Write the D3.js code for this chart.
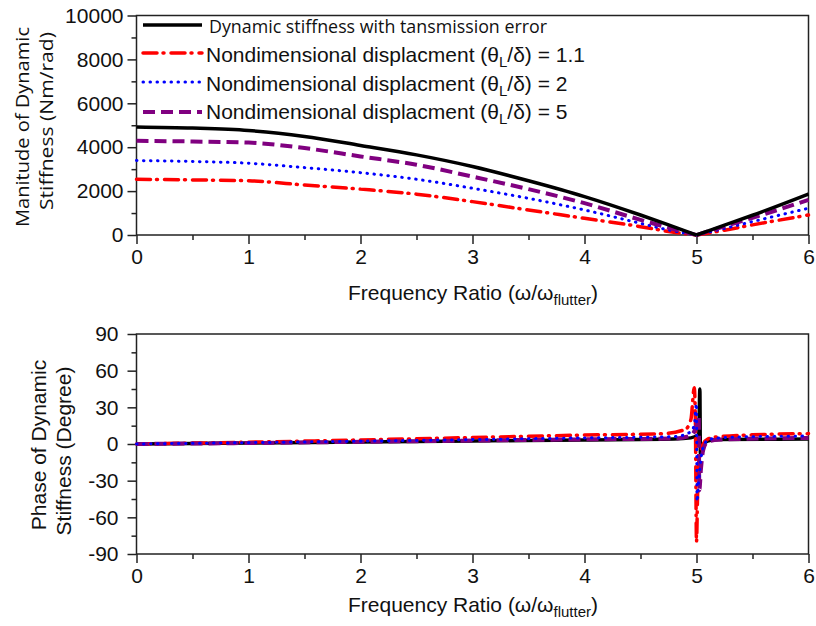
<!DOCTYPE html>
<html>
<head>
<meta charset="utf-8">
<script src="https://cdn.jsdelivr.net/npm/d3@7"></script>
<style>
body { margin: 0; background: #fff; }
text { font-family: 'Liberation Sans', Arial, sans-serif; fill: #111; }
.myriad { font-family: 'Open Sans', 'Noto Sans', sans-serif; }
</style>
</head>
<body>
<svg id="chart" width="816" height="626"></svg>
<script>
// magnitude plot, values (Nm/rad)
var freq_mag = [0, 0.5, 1, 1.5, 2, 2.5, 3, 3.5, 4, 4.5, 4.75, 5, 5.25, 5.5, 6];
var mag_te = [4920, 4870, 4760, 4490, 4080, 3650, 3120, 2470, 1750, 910, 460, 0, 450, 900, 1870];
var mag_d11 = [2540, 2510, 2470, 2280, 2090, 1860, 1520, 1140, 760, 380, 160, 0, 220, 460, 910];
var mag_d2 = [3390, 3350, 3270, 3070, 2840, 2540, 2130, 1670, 1140, 530, 230, 0, 300, 610, 1220];
var mag_d5 = [4290, 4260, 4210, 3960, 3580, 3200, 2660, 2090, 1450, 690, 330, 0, 400, 780, 1600];

// phase plot (degree)
var freq_ph_te = [0, 1, 2, 3, 4, 4.8, 4.95, 5.02, 5.03, 5.035, 5.06, 5.1, 5.2, 6];
var ph_te = [0, 0.8, 1.6, 2.5, 3.3, 4, 5, 8, 45, -9, -1, 2.5, 3.6, 4];
var freq_ph_d11 = [0, 1, 2, 3, 4, 4.7, 4.9, 4.95, 4.98, 4.99, 5.0, 5.01, 5.03, 5.06, 5.1, 5.2, 5.5, 6];
var ph_d11 = [0, 1.5, 3.3, 5.3, 7.3, 8.5, 12, 20, 46, 20, -80, -40, -10, 0, 4, 6, 7.5, 8.5];
var freq_ph_d2 = [0, 1, 2, 3, 4, 4.8, 4.93, 4.98, 5.0, 5.005, 5.02, 5.04, 5.07, 5.12, 5.3, 6];
var ph_d2 = [0, 1.1, 2.3, 3.6, 5, 6, 9, 15, 33, -47, -30, -12, 0, 4, 5.5, 6.5];
var freq_ph_d5 = [0, 1, 2, 3, 4, 4.8, 4.95, 5.0, 5.02, 5.025, 5.04, 5.06, 5.1, 5.2, 6];
var ph_d5 = [0, 0.8, 1.8, 2.8, 3.8, 4.5, 7, 15, 22, -38, -20, -5, 2, 3.5, 5];

var freq_ticks = [0, 1, 2, 3, 4, 5, 6];
var mag_ticks = [0, 2000, 4000, 6000, 8000, 10000];
var phase_ticks = [-90, -60, -30, 0, 30, 60, 90];
var legend_ratios = ['1.1', '2', '5'];

var styles = {
    te: {stroke: '#000000', width: 3.5, dash: null, cap: 'butt'},
    d11: {stroke: '#ff0000', width: 3.5, dash: '14,6,1,7', cap: 'round'},
    d2: {stroke: '#0000ff', width: 3, dash: '0.5,6.5', cap: 'round'},
    d5: {stroke: '#800080', width: 4, dash: '12,6', cap: 'butt'}
};

var FONT = 21;

var svg = d3.select('#chart');

var x = d3.scaleLinear().domain([0, 6]).range([136.5, 808.5]);
var y_mag = d3.scaleLinear().domain([0, 10000]).range([235, 15.5]);
var y_ph = d3.scaleLinear().domain([-90, 90]).range([554, 334]);

// plain hyphen minus, like the original
function fmt(d){return String(d);}

function style_path(path, s){
    path.attr('fill', 'none')
        .attr('stroke', s.stroke)
        .attr('stroke-width', s.width)
        .attr('stroke-linecap', s.cap)
        .attr('stroke-linejoin', 'round');
    if (s.dash) path.attr('stroke-dasharray', s.dash);
    return path;
}

function draw_frame(y, ticks, minor, x_title_y, label_pad){
    var y0 = y.range()[0], y1 = y.range()[1];
    var g = svg.append('g');

    g.append('g').attr('transform', 'translate(0,' + y0 + ')')
        .call(d3.axisBottom(x).tickValues(freq_ticks).tickSize(9).tickPadding(5)
            .tickFormat(fmt).tickSizeOuter(0));
    g.append('g').attr('transform', 'translate(0,' + y0 + ')')
        .call(d3.axisBottom(x).tickValues(d3.range(0.5, 6, 1)).tickSize(5).tickFormat('').tickSizeOuter(0));
    g.append('g').attr('transform', 'translate(' + x.range()[0] + ',0)')
        .call(d3.axisLeft(y).tickValues(ticks).tickSize(9).tickPadding(label_pad)
            .tickFormat(fmt).tickSizeOuter(0));
    g.append('g').attr('transform', 'translate(' + x.range()[0] + ',0)')
        .call(d3.axisLeft(y).tickValues(minor).tickSize(5).tickFormat('').tickSizeOuter(0));

    g.selectAll('.domain').remove();
    g.selectAll('.tick line').attr('stroke', '#222').attr('stroke-width', 1.5);
    g.selectAll('.tick text').attr('font-size', FONT).attr('fill', '#111')
        .style('font-family', "'Liberation Sans', Arial, sans-serif");

    g.append('rect')
        .attr('x', x.range()[0]).attr('y', y1)
        .attr('width', x.range()[1] - x.range()[0]).attr('height', y0 - y1)
        .attr('fill', 'none').attr('stroke', '#222').attr('stroke-width', 1.5);

    var t = g.append('text').attr('x', 473).attr('y', x_title_y)
        .attr('text-anchor', 'middle').attr('font-size', FONT);
    t.append('tspan').text('Frequency Ratio (\u03c9/\u03c9');
    t.append('tspan').attr('font-size', 15).attr('dy', 5).text('flutter');
    t.append('tspan').attr('dy', -5).text(')');
}

draw_frame(y_mag, mag_ticks, d3.range(1000, 10000, 2000), 300, 4);
draw_frame(y_ph, phase_ticks, d3.range(-75, 90, 30), 612, 9);

// y titles
svg.append('text').attr('class', 'myriad').attr('transform', 'translate(29,127) rotate(-90)')
    .attr('text-anchor', 'middle').attr('font-size', 19).attr('textLength', 200)
    .attr('lengthAdjust', 'spacingAndGlyphs').text('Manitude of Dynamic');
svg.append('text').attr('class', 'myriad').attr('transform', 'translate(53,121) rotate(-90)')
    .attr('text-anchor', 'middle').attr('font-size', 19).attr('textLength', 178)
    .attr('lengthAdjust', 'spacingAndGlyphs').text('Stiffness (Nm/rad)');
svg.append('text').attr('transform', 'translate(45.5,445) rotate(-90)')
    .attr('text-anchor', 'middle').attr('font-size', FONT).text('Phase of Dynamic');
svg.append('text').attr('transform', 'translate(70.5,451) rotate(-90)')
    .attr('text-anchor', 'middle').attr('font-size', FONT).text('Stiffness (Degree)');

// magnitude curves, split at the notch so the V stays sharp
var mag_line = d3.line()
    .x(function(d){return x(d[0]);})
    .y(function(d){return y_mag(d[1]);})
    .curve(d3.curveMonotoneX);

function split_path(xs, ys){
    var a = [], b = [];
    xs.forEach(function(f, i){
        if (f <= 5) a.push([f, ys[i]]);
        if (f >= 5) b.push([f, ys[i]]);
    });
    return mag_line(a) + mag_line(b);
}

var plot_top = svg.append('g');
[['d11', mag_d11], ['d2', mag_d2], ['d5', mag_d5], ['te', mag_te]].forEach(function(s){
    style_path(plot_top.append('path').attr('d', split_path(freq_mag, s[1])), styles[s[0]]);
});

// phase curves
var ph_line = d3.line()
    .x(function(d){return x(d[0]);})
    .y(function(d){return y_ph(d[1]);})
    .curve(d3.curveMonotoneX);

var plot_bot = svg.append('g');
[['te', freq_ph_te, ph_te], ['d11', freq_ph_d11, ph_d11], ['d5', freq_ph_d5, ph_d5], ['d2', freq_ph_d2, ph_d2]]
    .forEach(function(s){
        var pts = s[1].map(function(f, i){return [f, s[2][i]];});
        style_path(plot_bot.append('path').attr('d', ph_line(pts)), styles[s[0]]);
    });

// legend
var legend = svg.append('g');
var rows = [
    {key: 'te', y: 25, base: 33},
    {key: 'd11', y: 53, base: 61.5},
    {key: 'd2', y: 82, base: 90.5},
    {key: 'd5', y: 112, base: 119}
];
rows.forEach(function(r, i){
    style_path(legend.append('path').attr('d', 'M143,' + r.y + 'H202'), styles[r.key]);
    if (i == 0){
        legend.append('text').attr('class', 'myriad').attr('x', 209).attr('y', r.base)
            .attr('font-size', 19).attr('textLength', 338).attr('lengthAdjust', 'spacingAndGlyphs')
            .text('Dynamic stiffness with tansmission error');
    }
    else{
        var t = legend.append('text').attr('x', 206).attr('y', r.base).attr('font-size', FONT);
        t.append('tspan').text('Nondimensional displacment (\u03b8');
        t.append('tspan').attr('font-size', 15).attr('dy', 5).text('L');
        t.append('tspan').attr('dy', -5).text('/\u03b4) = ' + legend_ratios[i - 1]);
    }
});
</script>
</body>
</html>
